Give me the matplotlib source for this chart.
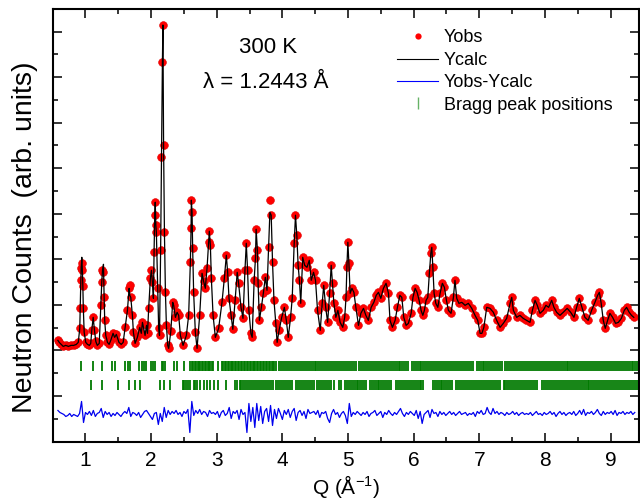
import numpy as np
import matplotlib
matplotlib.use("Agg")
import matplotlib.pyplot as plt
from matplotlib.lines import Line2D
from matplotlib.ticker import MultipleLocator, AutoMinorLocator

plt.rcParams['font.family'] = ['Liberation Sans', 'DejaVu Sans']
plt.rcParams['mathtext.fontset'] = 'custom'
plt.rcParams['mathtext.rm'] = 'Liberation Sans'
plt.rcParams['mathtext.default'] = 'regular'

q_obs = [0.58, 0.60, 0.63, 0.66, 0.70, 0.74, 0.78, 0.82, 0.86, 0.89,
         0.913, 0.919, 0.929, 0.934, 0.944, 0.952, 0.960, 0.967, 0.980, 1.004,
         1.03, 1.06, 1.08, 1.096, 1.117, 1.137, 1.157, 1.18, 1.21, 1.233,
         1.248, 1.259, 1.274, 1.284, 1.293, 1.309, 1.335, 1.36, 1.385, 1.42,
         1.445, 1.47, 1.51, 1.545, 1.574, 1.605, 1.639, 1.665, 1.675, 1.69,
         1.715, 1.73, 1.756, 1.79, 1.827, 1.85, 1.868, 1.908, 1.93, 1.945,
         1.963, 1.989, 2.005, 2.02, 2.035, 2.045, 2.055, 2.063, 2.072, 2.08,
         2.10, 2.115, 2.128, 2.145, 2.158, 2.172, 2.18, 2.19, 2.203, 2.218,
         2.233, 2.253, 2.268, 2.30, 2.329, 2.344, 2.37, 2.396, 2.42, 2.446,
         2.487, 2.537, 2.572, 2.598, 2.609, 2.613, 2.624, 2.633, 2.648, 2.674,
         2.70, 2.74, 2.776, 2.80, 2.826, 2.852, 2.877, 2.887, 2.903, 2.918,
         2.944, 2.979, 3.029, 3.08, 3.116, 3.146, 3.166, 3.187, 3.218, 3.245,
         3.28, 3.312, 3.333, 3.37, 3.40, 3.43, 3.45, 3.47, 3.49, 3.52,
         3.54, 3.57, 3.59, 3.60, 3.62, 3.63, 3.65, 3.68, 3.71, 3.74,
         3.766, 3.79, 3.81, 3.83, 3.85, 3.872, 3.90, 3.92, 3.95, 3.99,
         4.03, 4.06, 4.09, 4.125, 4.15, 4.18, 4.20, 4.22, 4.24, 4.26,
         4.28, 4.31, 4.34, 4.375, 4.41, 4.44, 4.475, 4.505, 4.536, 4.577,
         4.607, 4.63, 4.66, 4.69, 4.72, 4.744, 4.764, 4.785, 4.815, 4.846,
         4.88, 4.92, 4.95, 4.97, 4.983, 4.998, 5.014, 5.033, 5.06, 5.09,
         5.12, 5.16, 5.196, 5.236, 5.272, 5.31, 5.353, 5.394, 5.43, 5.464,
         5.50, 5.54, 5.58, 5.617, 5.64, 5.677, 5.718, 5.753, 5.79, 5.82,
         5.85, 5.886, 5.92, 5.962, 5.99, 6.023, 6.053, 6.084, 6.114, 6.14,
         6.164, 6.19, 6.216, 6.24, 6.262, 6.277, 6.293, 6.312, 6.338, 6.369,
         6.403, 6.438, 6.469, 6.50, 6.53, 6.57, 6.606, 6.63, 6.657, 6.69,
         6.734, 6.784, 6.834, 6.886, 6.936, 6.977, 7.013, 7.04, 7.07, 7.114,
         7.164, 7.215, 7.266, 7.317, 7.367, 7.418, 7.47, 7.495, 7.52, 7.57,
         7.62, 7.67, 7.72, 7.773, 7.81, 7.85, 7.884, 7.925, 7.976, 8.016,
         8.057, 8.104, 8.138, 8.18, 8.23, 8.28, 8.34, 8.393, 8.443, 8.484,
         8.524, 8.565, 8.61, 8.66, 8.712, 8.763, 8.804, 8.83, 8.858, 8.89,
         8.92, 8.956, 8.991, 9.032, 9.078, 9.12, 9.166, 9.21, 9.245, 9.285,
         9.32, 9.355]
y_obs = [101, 99, 97, 95, 96, 95, 96, 96, 97, 99,
         113, 133, 161, 173, 178, 171, 155, 133, 109, 99,
         97, 96, 98, 111, 124, 111, 100, 96, 98, 136,
         159, 171, 169, 144, 121, 106, 99, 97, 101, 108,
         104, 107, 99, 97, 99, 114, 131, 153, 156, 144,
         126, 109, 98, 104, 114, 108, 119, 106, 116, 108,
         133, 163, 171, 159, 143, 189, 226, 239, 216, 209,
         153, 113, 106, 191, 284, 379, 416, 296, 209, 149,
         116, 96, 93, 110, 139, 136, 124, 129, 126, 106,
         96, 106, 126, 179, 213, 241, 229, 193, 149, 109,
         93, 126, 168, 160, 153, 173, 199, 210, 196, 163,
         126, 104, 113, 139, 163, 186, 169, 143, 126, 112,
         141, 169, 158, 134, 123, 171, 198, 171, 131, 108,
         104, 161, 183, 212, 191, 158, 121, 134, 148, 164,
         151, 194, 241, 226, 179, 141, 118, 99, 111, 124,
         134, 121, 104, 124, 143, 198, 226, 206, 176, 161,
         138, 184, 176, 174, 181, 161, 169, 161, 131, 111,
         138, 156, 134, 119, 148, 176, 158, 138, 124, 131,
         119, 114, 124, 144, 174, 199, 178, 148, 153, 149,
         134, 116, 128, 133, 126, 121, 134, 139, 146, 149,
         143, 153, 158, 148, 121, 114, 121, 134, 146, 144,
         124, 116, 118, 128, 144, 153, 149, 141, 131, 126,
         131, 141, 144, 168, 188, 194, 174, 148, 138, 134,
         148, 158, 154, 141, 131, 128, 144, 161, 143, 138,
         139, 136, 138, 133, 126, 121, 108, 108, 114, 134,
         133, 129, 121, 114, 118, 123, 138, 144, 131, 124,
         126, 123, 121, 119, 131, 141, 136, 128, 131, 136,
         134, 141, 134, 129, 126, 129, 133, 129, 124, 134,
         143, 134, 124, 121, 131, 139, 146, 149, 138, 121,
         113, 121, 128, 124, 118, 119, 123, 131, 134, 129,
         126, 124]

# where the calculated curve tops out differently from the points
calc_tops = {0.944: 184, 1.274: 177, 1.675: 146, 3.81: 229}

# difference curve, even Q steps from 0.58 to 9.37
diff_vals = [5, 3, 2, 1, -1, 0, 2, -1, 1, 0,
             -1, 2, 14, -7, 3, 1, 4, 0, 5, -1,
             2, 3, 7, -2, 4, 1, 3, -1, 2, 0,
             3, 1, -1, 2, 4, 2, 8, -1, 3, 2,
             0, 3, -2, 1, 4, 5, 2, -1, -4, 2,
             3, -9, 2, -6, 8, -2, 5, 1, 4, 2,
             5, 1, 3, -1, 4, 2, 6, -17, 14, 0,
             5, 2, 6, 1, 4, 3, -1, 5, 2, 3,
             1, 4, -2, 3, 5, 0, 2, 8, -3, 4,
             2, 5, -4, 6, 1, 3, -17, 12, -6, 8,
             -12, 12, -5, 9, -8, 4, 7, -6, 10, -10,
             6, -3, 7, 2, -4, 5, 1, 6, -2, 4,
             7, -5, 3, 5, 0, 4, -3, 6, 2, 3,
             4, 1, 5, -2, 3, 2, 4, -3, -7, 2,
             6, 1, 3, -2, 2, 4, 0, -8, 12, -1,
             3, 1, 4, 2, 0, 3, 1, 4, -1, 2,
             3, 5, 0, 2, 4, -2, 3, 1, 5, 2,
             0, 3, 1, 4, 7, 2, -1, 3, 1, 4,
             2, 0, 5, -3, 4, -8, 1, 3, 5, -2,
             6, 2, 3, -1, 4, 1, 3, 0, 2, 4,
             1, 3, 0, 2, 4, 1, 2, 3, 0, 2,
             1, 3, -1, 4, 2, 5, 1, 2, 8, 3,
             1, 7, 2, 4, 1, 3, 2, 0, 3, 1,
             2, 4, 1, 3, 0, 2, 3, 1, 2, 1,
             3, 0, 2, 4, 1, 2, 0, 3, 1, 2,
             4, 1, 3, -1, 2, 4, 1, 3, 0, 2,
             3, 1, 4, 0, 2, 5, 1, 6, 0, 3,
             2, 4, 1, 3, 6, 2, 0, 4, 1, 3,
             2, 4, 1, 5, 0, 3, 2, 4, 1, 3,
             2, 4, 1, 3]
diff_offset = 26

# Bragg reflections, phase 1 (upper row) and phase 2 (lower row)
bragg1 = [0.934, 1.112, 1.254, 1.406, 1.457, 1.609, 1.644, 1.674, 1.822, 1.863,
          1.887, 1.918, 2.0, 2.035, 2.065, 2.162, 2.182, 2.218, 2.344, 2.395,
          2.496, 2.60, 2.62, 2.645, 2.665, 2.685, 2.71, 2.73, 2.75, 2.77,
          2.79, 2.815, 2.835, 2.86, 2.88, 2.90, 2.925, 2.95, 3.02, 3.08,
          3.10, 3.125, 3.145, 3.17, 3.19, 3.21, 3.235, 3.255, 3.28, 3.30,
          3.32, 3.345, 3.365, 3.39, 3.41, 3.43, 3.455, 3.475, 3.50, 3.52,
          3.545, 3.565, 3.59, 3.61, 3.635, 3.655, 3.68, 3.70, 3.725, 3.745,
          3.77, 3.79, 3.815, 3.835, 3.86, 3.88, 3.905,
          3.95, 3.98, 4.01, 4.04, 4.07, 4.10, 4.13, 4.16, 4.19, 4.22,
          4.25, 4.28, 4.31, 4.34, 4.37, 4.40, 4.43, 4.46, 4.49, 4.52,
          4.55, 4.58, 4.61, 4.64, 4.67, 4.70, 4.73, 4.76, 4.79, 4.82,
          4.85, 4.88, 4.91, 4.94, 4.97, 5.00, 5.03, 5.06, 5.09, 5.12,
          5.17, 5.20, 5.23, 5.26, 5.29, 5.32, 5.35, 5.38, 5.41, 5.44,
          5.47, 5.50, 5.53, 5.56, 5.59, 5.62, 5.65, 5.68, 5.71, 5.74,
          5.77, 5.80, 5.83, 5.86, 5.89, 5.92, 5.97, 6.00, 6.03, 6.06,
          6.09, 6.12, 6.15, 6.18, 6.21, 6.24, 6.27, 6.30, 6.33, 6.36,
          6.39, 6.42, 6.45, 6.48, 6.51, 6.54, 6.57, 6.60, 6.63, 6.66,
          6.69, 6.72, 6.75, 6.78, 6.81, 6.84, 6.87, 6.90, 6.96, 6.99,
          7.02, 7.05, 7.08, 7.11, 7.14, 7.17, 7.20, 7.23, 7.26, 7.29,
          7.32, 7.35, 7.40, 7.43, 7.46, 7.49, 7.52, 7.55, 7.58, 7.61,
          7.64, 7.67, 7.70, 7.73, 7.76, 7.79, 7.82, 7.85, 7.88, 7.91,
          7.94, 7.97, 8.00, 8.03, 8.06, 8.09, 8.12, 8.15, 8.18, 8.21,
          8.24, 8.27, 8.30, 8.33, 8.36, 8.39, 8.42, 8.45, 8.48, 8.51,
          8.54, 8.57, 8.60, 8.63, 8.66, 8.69, 8.72, 8.75, 8.78, 8.81,
          8.84, 8.87, 8.90, 8.93, 8.96, 8.99, 9.02, 9.05, 9.08, 9.11,
          9.14, 9.17, 9.20, 9.23, 9.26, 9.29, 9.32, 9.35, 9.38, 9.41]
bragg2 = [1.091, 1.254, 1.492, 1.659, 1.750, 1.837, 2.142, 2.192, 2.294, 2.487,
          2.507, 2.533, 2.557, 2.598, 2.648, 2.674, 2.70, 2.75, 2.80, 2.852,
          2.903, 2.953, 3.02, 3.146, 3.273, 3.309, 3.349, 3.374, 3.40,
          3.43, 3.46, 3.49, 3.52, 3.55, 3.58, 3.61, 3.65, 3.68, 3.71,
          3.74, 3.77, 3.80, 3.83, 3.86, 3.90, 3.93, 3.96, 4.00, 4.03,
          4.06, 4.09, 4.12, 4.15, 4.21, 4.24, 4.27, 4.30, 4.33, 4.36,
          4.39, 4.42, 4.45, 4.48, 4.53, 4.56, 4.59, 4.62, 4.65, 4.68,
          4.71, 4.74, 4.79, 4.86, 4.89, 4.95, 4.98, 5.01, 5.04, 5.07,
          5.10, 5.13, 5.16, 5.19, 5.22, 5.25, 5.28, 5.33, 5.36, 5.39,
          5.42, 5.45, 5.48, 5.51, 5.54, 5.57, 5.60, 5.63, 5.66, 5.73,
          5.76, 5.79, 5.82, 5.85, 5.88, 5.91, 5.94, 5.97, 6.00, 6.03,
          6.06, 6.09, 6.12, 6.15, 6.29, 6.32, 6.35, 6.38, 6.41, 6.44,
          6.47, 6.50, 6.53, 6.56, 6.59, 6.65, 6.68, 6.71, 6.74, 6.77,
          6.80, 6.83, 6.86, 6.89, 6.92, 6.95, 6.98, 7.01, 7.04, 7.07,
          7.10, 7.13, 7.16, 7.19, 7.22, 7.25, 7.28, 7.31, 7.37, 7.40,
          7.43, 7.46, 7.49, 7.52, 7.55, 7.58, 7.61, 7.64, 7.67, 7.70,
          7.73, 7.76, 7.79, 7.82, 7.85, 7.88, 7.96, 7.99, 8.02, 8.05,
          8.08, 8.11, 8.14, 8.17, 8.20, 8.23, 8.26, 8.29, 8.32, 8.35,
          8.38, 8.41, 8.44, 8.47, 8.50, 8.53, 8.56, 8.59, 8.62, 8.65,
          8.68, 8.71, 8.74, 8.77, 8.80, 8.83, 8.86, 8.89, 8.92, 8.95,
          8.98, 9.01, 9.04, 9.07, 9.10, 9.13, 9.16, 9.19, 9.22, 9.25,
          9.28, 9.31, 9.34, 9.37, 9.40]
bragg1_span = (70, 80)
bragg2_span = (51, 61)

y_calc = [calc_tops.get(q, v) for q, v in zip(q_obs, y_obs)]
q_diff = np.linspace(0.58, 9.37, len(diff_vals))

fig = plt.figure(figsize=(6.4, 5.0), dpi=100)
ax = fig.add_axes([0.0823, 0.117, 0.9157, 0.865])

ax.plot(q_obs, y_obs, 'o', color='#ff0000', ms=5.6, mec='#e00000', mew=0.4, zorder=2)
ax.plot(q_obs, y_calc, '-', color='black', lw=0.9, zorder=3)
ax.plot(q_diff, np.array(diff_vals) + diff_offset, '-', color='#0000ee', lw=0.9)
ax.vlines(bragg1, *bragg1_span, color='#007a00', lw=1.3)
ax.vlines(bragg2, *bragg2_span, color='#007a00', lw=1.3)

ax.set_xlim(0.5, 9.43)
ax.set_ylim(0, 432)
ax.xaxis.set_major_locator(MultipleLocator(1))
ax.xaxis.set_minor_locator(MultipleLocator(0.5))
ax.yaxis.set_major_locator(MultipleLocator(45.5))
ax.yaxis.set_minor_locator(AutoMinorLocator(2))
ax.tick_params(which='both', direction='in', top=True, right=True, width=1.1)
ax.tick_params(which='major', length=6.5, labelsize=15, pad=7)
ax.tick_params(which='minor', length=3.5)
ax.tick_params(axis='y', labelleft=False)
for s in ax.spines.values():
    s.set_linewidth(1.5)

ax.set_xlabel('Q (Å$^{-1}$)', fontsize=15, labelpad=2)
ax.set_ylabel('Neutron Counts  (arb. units)', fontsize=20.5, labelpad=7)
ax.yaxis.label.set_y(0.472)

ax.text(0.367, 0.912, '300 K', transform=ax.transAxes, ha='center', va='center', fontsize=16)
ax.text(0.364, 0.829, 'λ = 1.2443 Å', transform=ax.transAxes, ha='center', va='center', fontsize=16)

handles = [Line2D([], [], ls='none', marker='o', color='red', ms=4.5, mec='none'),
           Line2D([], [], color='black', lw=0.8),
           Line2D([], [], color='blue', lw=0.8),
           Line2D([], [], ls='none', marker='|', color='green', ms=9, alpha=0.6)]
labels = ['Yobs', 'Ycalc', 'Yobs-Ycalc', 'Bragg peak positions']
ax.legend(handles, labels, loc='upper left', bbox_to_anchor=(0.62, 0.941),
          bbox_transform=fig.transFigure, frameon=False, fontsize=13,
          handlelength=2.3, handletextpad=0.3, labelspacing=0.3,
          borderpad=0, borderaxespad=0)

fig.savefig('out.png', dpi=100)
